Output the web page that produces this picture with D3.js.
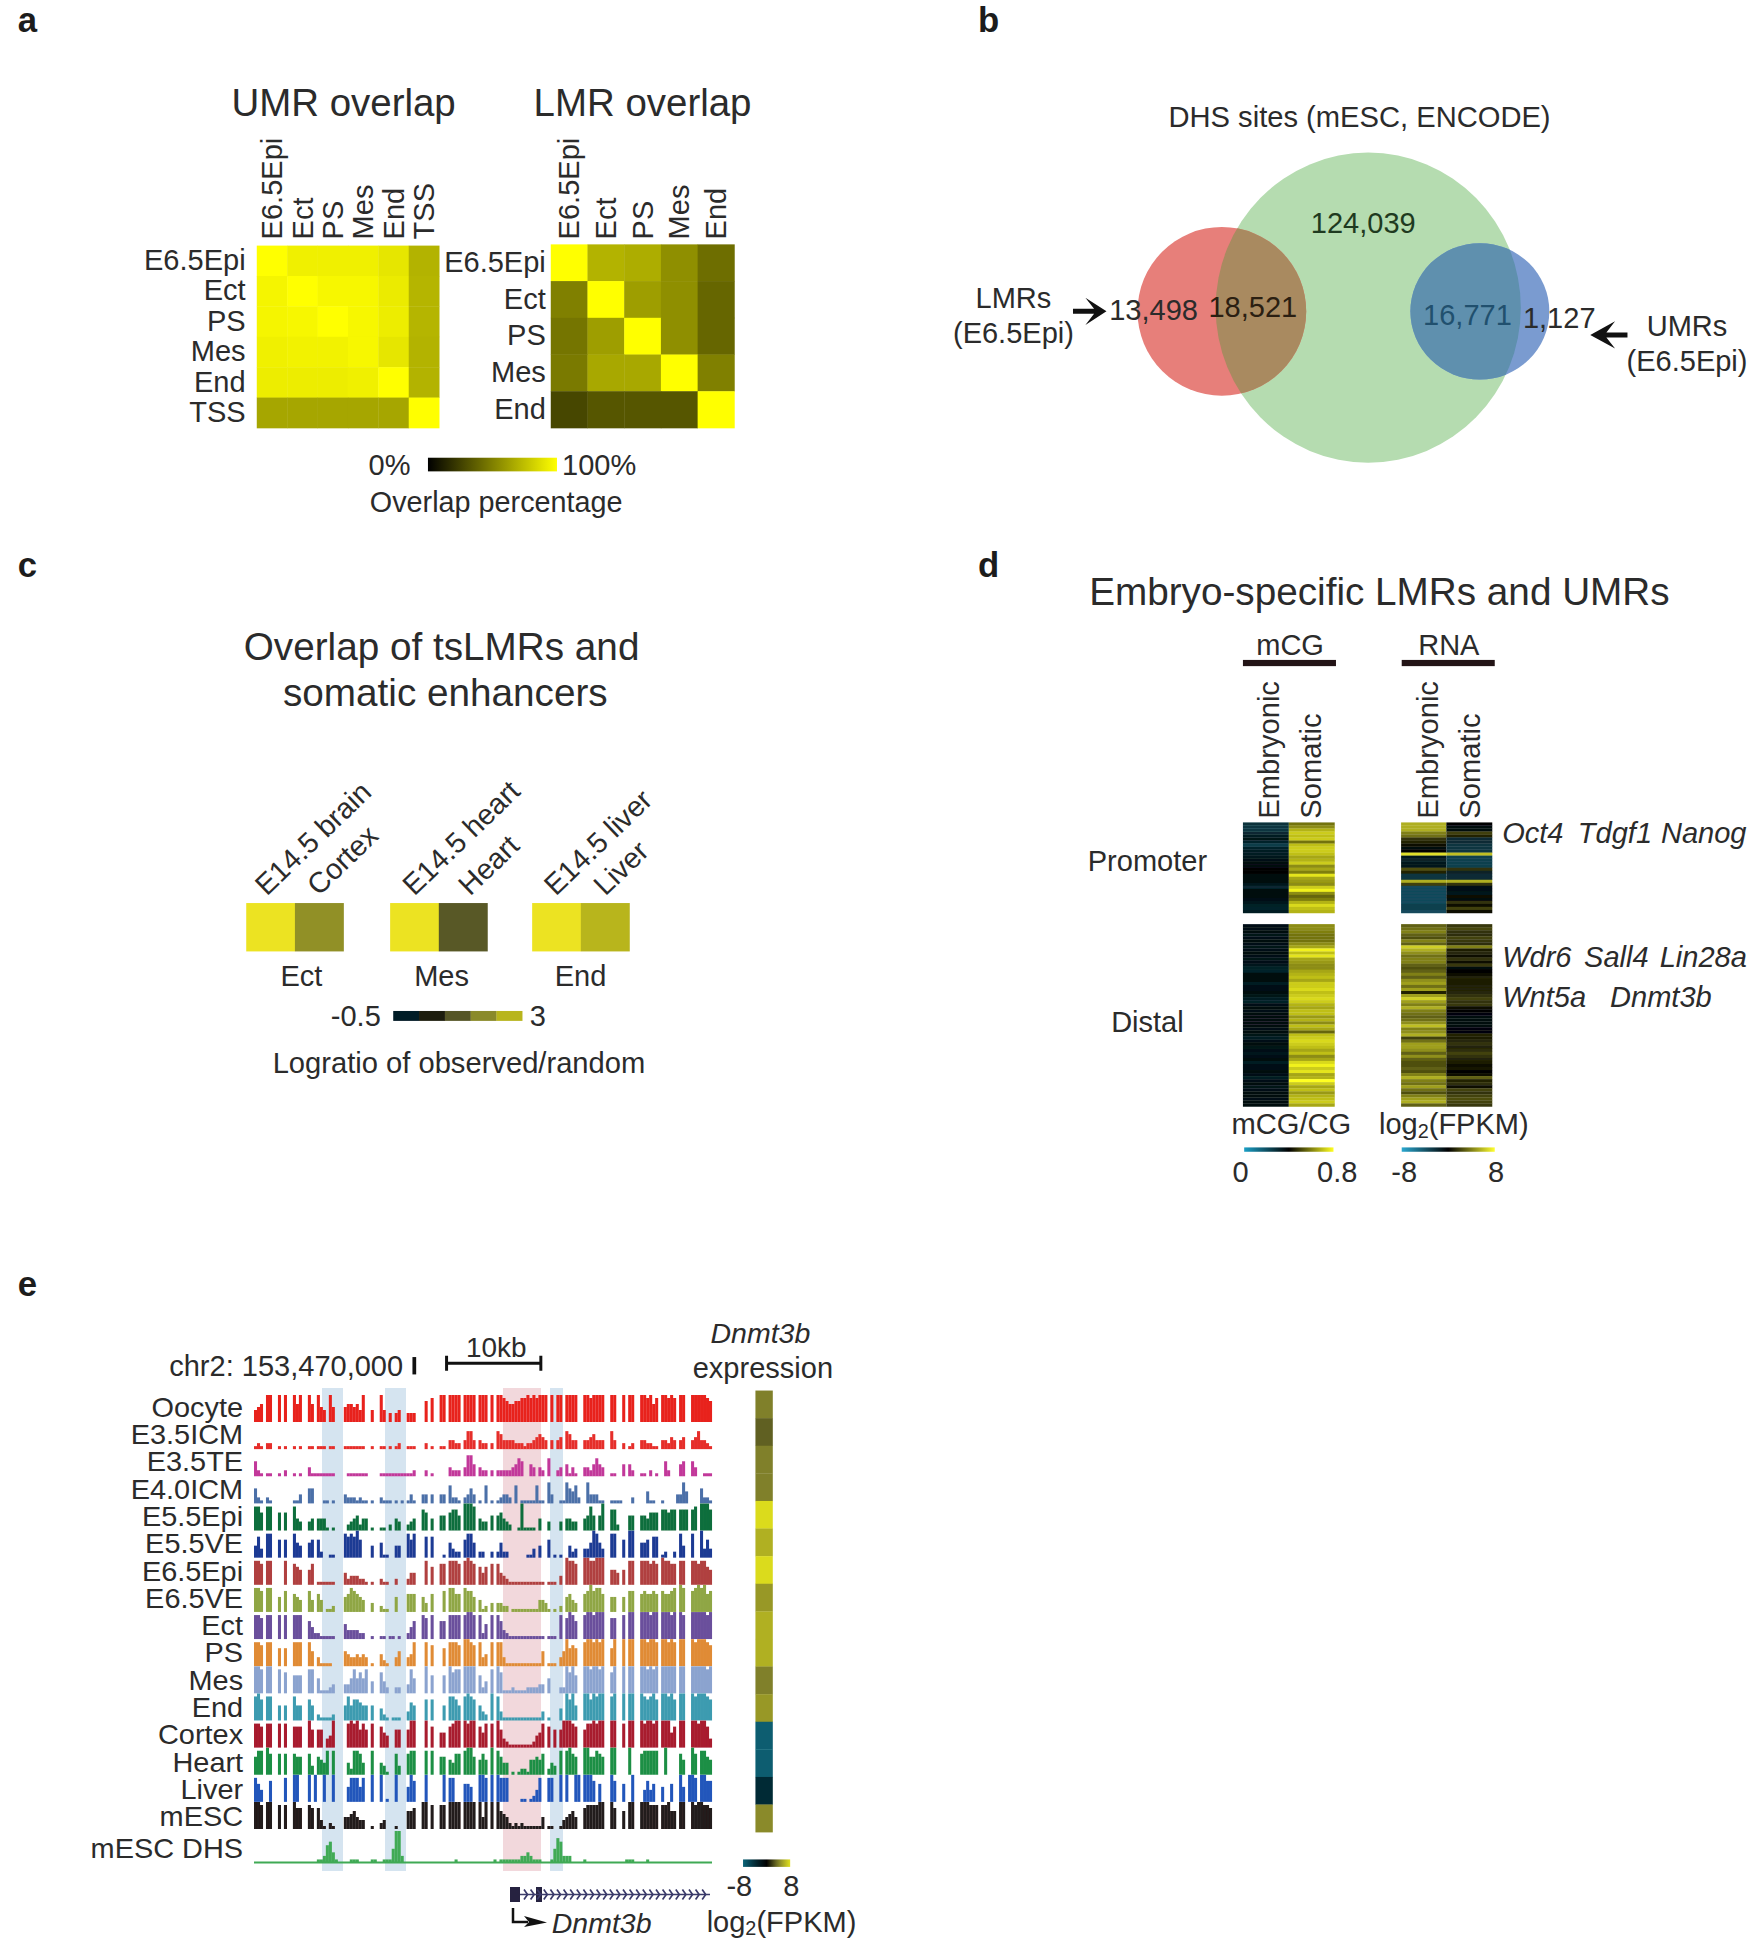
<!DOCTYPE html>
<html><head><meta charset="utf-8">
<script src="https://cdnjs.cloudflare.com/ajax/libs/d3/7.8.5/d3.min.js"></script>
<style>html,body{margin:0;padding:0;background:#fff}svg{display:block}text{font-family:"Liberation Sans",Arial,sans-serif;fill:#2b2b2b}</style>
</head><body><svg id="c" width="1754" height="1945"></svg>
<script>
// ---------- panel a
const umrCols = ["E6.5Epi","Ect","PS","Mes","End","TSS"];
const lmrCols = ["E6.5Epi","Ect","PS","Mes","End"];
const umrValues = [
 [100,94,94,94,90,70],[96,100,97,97,92,71],[96,97,100,97,93,71],
 [94,95,95,97,90,70],[93,93,93,94,100,70],[65,65,65,65,65,100]];
const lmrValues = [
 [100,70,68,56,43],[50,100,62,56,40],[46,62,100,56,40],
 [48,66,66,100,50],[28,34,34,34,100]];
// ---------- panel b
const vennCounts = ["124,039","13,498","18,521","16,771","1,127"];
// ---------- panel c
const enhGroups = ["Ect","Mes","End"];
const enhLabels = [["E14.5 brain","Cortex"],["E14.5 heart","Heart"],["E14.5 liver","Liver"]];
const enhValues = [[3,1.7],[3,0.95],[3,2.3]];
const enhStops = [-0.5,0.2,0.9,1.6,2.3,3];
const enhColors = ["#021a26","#1f1d0f","#555528","#8a8a2a","#b8b51e","#ece324"];
// ---------- panel d
const mcgPromEmb = [.28,.27,.27,.30,.33,.35,.31,.25,.31,.33,.33,.34,.36,.38,.38,.39,.39,.38,.38,.37,.34,.30,.37,.38,.38,.36,.34,.32,.31,.33];
const mcgPromSom = [.58,.62,.68,.72,.70,.72,.58,.70,.72,.72,.70,.66,.68,.72,.62,.66,.60,.76,.66,.64,.62,.72,.78,.62,.56,.60,.68,.74,.70,.68];
const rnaPromEmb = [5.5,5.5,5.5,4,3.5,1.5,1,.5,-.5,0,7,-1,-1.5,-1,-1,2.5,1,-2.5,-2.5,5.5,2,-3.5,-3.5,-3.5,-3.5,-3.5,-3.5,-3,-3,-3.5];
const rnaPromSom = [0,-.5,-.5,2,1,-2,-2,-2.5,-2.5,-2.5,6,-3,-3,-3,-3,1.5,-1.5,-2,-2,5.5,1.5,-.8,-.8,-1.2,.3,-.5,1.5,.5,2,.5];
const mcgDistEmb = [.36,.36,.37,.35,.36,.37,.36,.35,.36,.37,.36,.35,.36,.34,.32,.31,.38,.38,.37,.33,.36,.36,.37,.35,.33,.32,.36,.37,.36,.37,.38,.38,.38,.38,.36,.37,.35,.33,.36,.37,.35,.36,.34,.36,.37,.33,.36,.36,.37,.36,.33,.36,.37,.35,.36,.37,.37,.36,.37,.37];
const mcgDistSom = [.62,.62,.60,.58,.58,.58,.62,.66,.78,.70,.76,.66,.64,.62,.62,.66,.68,.70,.66,.72,.72,.74,.70,.72,.74,.72,.68,.66,.70,.70,.64,.68,.62,.70,.66,.56,.70,.72,.74,.72,.70,.66,.70,.62,.66,.74,.78,.72,.76,.66,.68,.80,.72,.66,.70,.64,.68,.70,.72,.66];
const rnaDistEmb = [3,3.5,4,3,2.5,4,3,6.5,5.5,4.5,3.5,4,4,3,2.5,3,4,3,4.5,5,3.5,5,1,5,6.5,5,4,5.5,4,3.5,3,3.5,4.5,6,4,4.5,5.5,2,3.5,5,5,4.5,3,4.5,3,2.5,2.5,3,2.5,4,5.5,4,3.5,5,3.5,2.5,4,5,5.5,3];
const rnaDistSom = [1.8,2.2,1.6,1.4,2.1,1.8,1.4,4,.9,1.2,.3,1.6,.4,1.8,-.4,.1,.3,1.1,.9,.8,1.1,1.1,1.2,1.6,2.1,1.6,1.8,.3,-.2,-.3,-.4,-.5,-.5,-.4,-.3,-.3,1,.8,1.2,1.6,1.1,1.4,2.1,1.6,1.1,.9,.4,.6,.2,.3,3,1,1.4,.4,2.1,1.6,2.1,2.4,2.1,1.8];
// ---------- panel e
const trackNames = ["Oocyte","E3.5ICM","E3.5TE","E4.0ICM","E5.5Epi","E5.5VE","E6.5Epi","E6.5VE","Ect","PS","Mes","End","Cortex","Heart","Liver","mESC"];
const trackColors = ["#e8231f","#e62d2a","#c2399a","#4c6fa8","#0f6e3c","#1f3a94","#b0403f","#8fa644","#6a4f9c","#e08b35","#8ba3cf","#3c9bb0","#a81a2e","#1f8f45","#2357bb","#231a1a"];
const oocyte = "4560990090 9009690096 0954095000 5665649004 0094030340 0333000708 0099099990 9999099909 0998766778 8989899909 0990999900 9989999009 9009099009 9896809989 8099009999 987";
const icm35  = "1210220010 1001010011 0111011000 1111111001 0011010120 0111000201 0011033220 3663032202 0653333222 1223454303 0340653300 3345333006 3002012003 3221103324 3034003463 321";
const te35   = "5210110010 2001010031 1111111000 0111111100 0011111111 1112000201 0000032220 3774032202 0222223465 0043032060 0230413100 3324643001 1004042001 1020100520 0045005300 111";
const icm40  = "5210210000 0001130055 0001101000 3222121101 0021110101 0131003303 0033062210 2353010601 0123320601 1111611073 0011754620 0733311001 1110002000 0411001000 0337400005 221";
const epi55  = "8860880060 6008430034 0444101000 0234524401 0011020430 0234007604 0055067750 9998043305 0564320019 1111040030 0030443300 4585059007 7200055005 5466607767 7077707809 997";
const ve55   = "4730880060 6008540056 0620011000 8787960004 0051100440 0868000707 0001053220 6885022002 0252200000 0113040060 1010042300 3359853008 8006099005 5607701200 2084008009 363";
const epi65  = "8870880000 8007650057 0111111000 4233322101 0021100200 0244000806 0077088870 8987064607 0743211111 1111111011 1030988700 9988999005 5405088008 8878709887 7088008878 865";
const ve65   = "8870880050 7006540074 0640112000 5687654003 0021100500 0666005306 0007088660 8775041203 0332201111 1111144310 1020564300 6797886005 5005077006 7667607667 8098007898 967";
const ect    = "8870880080 8008880064 2211111000 5333322001 0011011010 0246008708 0066088880 8998082508 0863211111 1111111011 1080798600 8998999007 7008099009 9989909998 9098009999 989";
const ps     = "8870880060 6008880085 0311110000 5433434301 0042100350 0348000807 0006088870 9987083408 0883111111 1111115011 1035967600 8998989006 9009099009 9899809989 8099009899 987";
const mes    = "9980990080 7006660088 0511123000 3358575804 0074200220 0385000906 0006097880 9999062408 0971112111 1222233050 0022979600 9989989007 9009099009 9898909999 9099009999 989";
const end    = "8970880050 5008550075 0211112000 5857765505 0042101110 0365000707 0005088750 8987053209 0831111111 1111113010 0040979500 9979899008 9009099009 8789709989 7099009899 987";
const cortex = "8870880080 8007770096 0660349000 0898968608 0075400660 0699000907 0055078990 9899075808 0963211111 1112458070 6069998700 6889899009 9008099009 8998909995 7099009989 973";
const heart  = "6880970070 7007660073 0654808000 0428874008 0043100730 0788000808 0066054770 8996057509 0864401012 2155657024 3080897600 9966876009 9000090007 8888800900 0075009708 865";
const liver  = "8640070000 8009900090 9009009000 0588858009 0090100900 0597000900 0009088000 6650099809 0988800001 1012480088 0090900990 9997060009 7006009000 4746005006 0095099809 977";
const mesc   = "9980990080 8009770087 0731021000 4456433001 0023000100 0667009908 0088099990 9999094909 0965421212 1111114011 0013456400 7888899009 7006099009 9988808896 6099009899 887";
const dhs    = "0000000000 0000000000 0112563100 0011100001 1001114992 0000000000 0000000100 0000000000 1011111112 2321110001 4762220000 1000000000 0000111000 0100000000 0000000000 000";
const dnmt3bExpr = [4,3,4,4,7.8,6,7.8,5,6,6,4,5,-7.5,-7.5,-4,4.4];
const binsPerTrack = 153;

// ---------- drawing
const K = 1754/1414;
const svg = d3.select("#c");
const defs = svg.append("defs");
defs.append("filter").attr("id","soft").append("feGaussianBlur").attr("stdDeviation",0.55);
const S = svg.append("g").attr("transform",`scale(${K})`);   // layout in 1414-wide units
const F = svg.append("g");                                    // tracks in full pixels
const BODY = 23.4;

function txt(g,x,y,s,o={}){
  const t=g.append("text").attr("x",x).attr("y",y).attr("dy",".35em").text(s)
    .attr("font-size",o.size||BODY).attr("text-anchor",o.anchor||"middle");
  if(o.weight)t.attr("font-weight",o.weight);
  if(o.style)t.attr("font-style",o.style);
  if(o.fill)t.style("fill",o.fill);
  if(o.rotate!=null)t.attr("transform",`rotate(${o.rotate} ${x} ${y})`);
  return t;
}
// a closely stacked label: keep the line box small, stretch the glyphs to the reference's width
function wide(t,f){t.attr("textLength",t.node().getComputedTextLength()*f).attr("lengthAdjust","spacingAndGlyphs");return t;}
function gradient(id,scale,dom){
  const lg=defs.append("linearGradient").attr("id",id);
  d3.range(0,1.0001,0.1).forEach(p=>lg.append("stop").attr("offset",p)
     .attr("stop-color",scale(dom[0]+(dom[1]-dom[0])*p)));
  return `url(#${id})`;
}
[["a",22,16],["b",797,16],["c",22,455],["d",797,455],["e",22,1035]].forEach(([l,x,y])=>txt(S,x,y,l,{size:28,weight:"bold",fill:"#1c1c1c"}));

// panel a
const ovColor = d3.scaleLinear().domain([0,100]).range(["#000000","#ffff00"]);
function heat(cols,vals,x0,x1,y0,y1,rowAt,colAt){
  const g=S.append("g").attr("filter","url(#soft)");
  const bx=d3.scaleBand().domain(cols).range([x0,x1]);
  const by=d3.scaleBand().domain(cols).range([y0,y1]);
  g.selectAll("g").data(vals).join("g").each(function(row,i){
    d3.select(this).selectAll("rect").data(row).join("rect")
      .attr("x",(d,j)=>bx(cols[j])).attr("y",by(cols[i]))
      .attr("width",bx.bandwidth()+.3).attr("height",by.bandwidth()+.3)
      .attr("fill",d=>ovColor(d));
  });
  const ax=S.append("g").attr("transform",`translate(${rowAt},0)`).call(d3.axisLeft(by).tickSize(0).tickPadding(0));
  ax.select(".domain").remove();
  ax.selectAll("text").attr("font-size",23.4).style("font-family",'"Liberation Sans"');
  const at=S.append("g").attr("transform",`translate(0,${colAt})`).call(d3.axisTop(bx).tickSize(0).tickPadding(0));
  at.select(".domain").remove();
  at.selectAll("text").attr("font-size",23.4).style("font-family",'"Liberation Sans"')
    .attr("text-anchor","start").attr("transform","rotate(-90)").attr("x",0).attr("y",0).attr("dy",".35em");
}
heat(umrCols,umrValues,207,354,198,345,198,193);
heat(lmrCols,lmrValues,444,592,197,345,440,193);
txt(S,277,83,"UMR overlap",{size:31});
txt(S,518,83,"LMR overlap",{size:31});
S.append("rect").attr("x",345).attr("y",369).attr("width",104).attr("height",11).attr("fill",gradient("gA",ovColor,[0,100]));
txt(S,314,375,"0%");txt(S,483,375,"100%");
txt(S,400,405,"Overlap percentage",{size:23.2});

// panel b
const venn={g:[1103,248,123,125],r:[985,251,68,68],b:[1193,251,56,55]};
const ell=(g,e,f)=>g.append("ellipse").attr("cx",e[0]).attr("cy",e[1]).attr("rx",e[2]).attr("ry",e[3]).attr("fill",f);
defs.append("clipPath").attr("id","cpG").append("ellipse").attr("cx",venn.g[0]).attr("cy",venn.g[1]).attr("rx",venn.g[2]).attr("ry",venn.g[3]);
const vg=S.append("g").attr("filter","url(#soft)");
ell(vg,venn.g,"#b5dcb0");ell(vg,venn.r,"#e77f7a");ell(vg,venn.b,"#7a9bd0");
ell(vg.append("g").attr("clip-path","url(#cpG)"),venn.r,"#a98a60");
ell(vg.append("g").attr("clip-path","url(#cpG)"),venn.b,"#5e90ae");
txt(S,1096,94,"DHS sites (mESC, ENCODE)",{size:23.5});
[[1099,180,"#1f3a20"],[930,250,"#2b2b2b"],[1010,247,"#2b1f12"],[1183,254,"#21506e"],[1257,256,"#2b2b2b"]]
 .forEach(([x,y,f],i)=>txt(S,x,y,vennCounts[i],{fill:f}));
txt(S,817,240,"LMRs");txt(S,817,268,"(E6.5Epi)");
txt(S,1360,263,"UMRs");txt(S,1360,291,"(E6.5Epi)");
S.append("path").attr("d","M865,249H882L875,240L892,251L875,262L882,253H865Z").attr("fill","#111");
S.append("path").attr("d","M1312,268H1295L1302,259L1282,270L1302,281L1295,272H1312Z").attr("fill","#111");

// panel c
const enhColor=d3.scaleLinear().domain(enhStops).range(enhColors);
txt(S,356,521,"Overlap of tsLMRs and",{size:31.2});
txt(S,359,558,"somatic enhancers",{size:31.2});
const enhX=[198.5,314.5,429];
enhGroups.forEach((name,i)=>{
  const x=d3.scaleBand().domain([0,1]).range([enhX[i],enhX[i]+78.5]);
  S.append("g").attr("filter","url(#soft)").selectAll("rect").data(enhValues[i]).join("rect")
    .attr("x",(d,j)=>x(j)).attr("y",728).attr("width",x.bandwidth()+.2).attr("height",39).attr("fill",d=>enhColor(d));
  txt(S,enhX[i]+(i==0?44.5:i==1?41.5:39),787,name);
});
[[215,723,0,0],[257,723,0,1],[334,723,1,0],[379,723,1,1],[448,723,2,0],[488,723,2,1]]
 .forEach(([x,y,i,j])=>S.append("text").attr("x",x).attr("y",y).text(enhLabels[i][j]).attr("font-size",23.3)
   .attr("transform",`rotate(-44 ${x} ${y})`));
const enhBins=enhStops.slice(0,5);
const lx=d3.scaleBand().domain(enhBins).range([317,421]);
S.append("g").attr("filter","url(#soft)").selectAll("rect").data(enhBins).join("rect")
  .attr("x",d=>lx(d)).attr("y",815).attr("width",lx.bandwidth()+.2).attr("height",8).attr("fill",d=>enhColor(d));
txt(S,307,819,"-0.5",{anchor:"end"});txt(S,427,819,"3",{anchor:"start"});
txt(S,370,857,"Logratio of observed/random",{size:23.5});

// panel d
txt(S,1112,477,"Embryo-specific LMRs and UMRs",{size:31.2});
const mcgColor=d3.scaleLinear().domain([0,.4,.8]).range(["#1a9fc5","#000000","#ffff20"]);
const rnaColor=d3.scaleLinear().domain([-8,0,8]).range(["#2aa8d0","#000000","#ffff30"]);
function stripes(arr,x0,x1,y0,y1,col){
  const y=d3.scaleBand().domain(d3.range(arr.length)).range([y0,y1]);
  S.append("g").attr("filter","url(#soft)").selectAll("rect").data(arr).join("rect")
   .attr("x",x0).attr("width",x1-x0).attr("y",(d,i)=>y(i)).attr("height",y.bandwidth()+.2).attr("fill",d=>col(d));
}
const dPromY=[663,736], dDistY=[745,892];
stripes(mcgPromEmb,1002,1039,...dPromY,mcgColor);stripes(mcgPromSom,1039,1076,...dPromY,mcgColor);
stripes(mcgDistEmb,1002,1039,...dDistY,mcgColor);stripes(mcgDistSom,1039,1076,...dDistY,mcgColor);
stripes(rnaPromEmb,1129.5,1166,...dPromY,rnaColor);stripes(rnaPromSom,1166,1203,...dPromY,rnaColor);
stripes(rnaDistEmb,1129.5,1166,...dDistY,rnaColor);stripes(rnaDistSom,1166,1203,...dDistY,rnaColor);
txt(S,1040,520,"mCG");txt(S,1168,520,"RNA");
S.append("rect").attr("x",1002).attr("y",532).attr("width",75).attr("height",5).attr("fill","#231416");
S.append("rect").attr("x",1130).attr("y",532).attr("width",75).attr("height",5).attr("fill","#231416");
[[1023,"Embryonic"],[1057,"Somatic"],[1151,"Embryonic"],[1185,"Somatic"]].forEach(([x,s])=>txt(S,x,660,s,{anchor:"start",rotate:-90,size:23.5}));
txt(S,925,694,"Promoter");txt(S,925,824,"Distal");
txt(S,1211,671,"Oct4",{anchor:"start",style:"italic"});
txt(S,1272,671,"Tdgf1",{anchor:"start",style:"italic"});
txt(S,1339,671,"Nanog",{anchor:"start",style:"italic"});
txt(S,1211,771,"Wdr6",{anchor:"start",style:"italic"});
txt(S,1277,771,"Sall4",{anchor:"start",style:"italic"});
txt(S,1338,771,"Lin28a",{anchor:"start",style:"italic"});
txt(S,1211,804,"Wnt5a",{anchor:"start",style:"italic"});
txt(S,1298,804,"Dnmt3b",{anchor:"start",style:"italic"});
txt(S,1041,906,"mCG/CG",{size:23.5});
function logLabel(x,y){const t=txt(S,x,y,"log",{});t.append("tspan").text("2").attr("font-size",16).attr("dy",3);t.append("tspan").text("(FPKM)").attr("font-size",BODY).attr("dy",-3);}
logLabel(1172,906);
S.append("rect").attr("x",1003).attr("y",925).attr("width",72).attr("height",3.5).attr("fill",gradient("gM",mcgColor,[0,.8]));
S.append("rect").attr("x",1130).attr("y",925).attr("width",75).attr("height",3.5).attr("fill",gradient("gR",rnaColor,[-8,8]));
txt(S,1000,945,"0");txt(S,1078,945,"0.8");txt(S,1132,945,"-8");txt(S,1206,945,"8");

// panel e
const tracks=[oocyte,icm35,te35,icm40,epi55,ve55,epi65,ve65,ect,ps,mes,end,cortex,heart,liver,mesc];
const parse=s=>s.replace(/ /g,"").split("").map(Number);
const tx=d3.scaleLinear().domain([0,binsPerTrack]).range([254,712]);
const base=d3.scaleLinear().domain([0,15]).range([1422,1829]);
const shadeBlue=[[322,343],[385,406],[550,563]], shadePink=[[503,541]];
F.append("g").selectAll("rect").data(shadeBlue).join("rect").attr("x",d=>d[0]).attr("width",d=>d[1]-d[0]).attr("y",1388).attr("height",483).attr("fill","#d5e4f0");
F.append("g").selectAll("rect").data(shadePink).join("rect").attr("x",d=>d[0]).attr("width",d=>d[1]-d[0]).attr("y",1388).attr("height",483).attr("fill","#f2d8dc");
const th=d3.scaleLinear().domain([0,9]).range([0,27]);
const tg=F.append("g").attr("filter","url(#soft)");
tracks.forEach((s,k)=>{
  const vals=parse(s);
  tg.append("g").selectAll("rect").data(vals.map((v,i)=>({v,i})).filter(d=>d.v>0)).join("rect")
   .attr("x",d=>tx(d.i)).attr("width",3.05).attr("y",d=>base(k)-th(d.v)).attr("height",d=>th(d.v)).attr("fill",trackColors[k]);
});
const dh=d3.scaleLinear().domain([0,9]).range([0,32]);
const dhsBase=1863;
tg.append("rect").attr("x",254).attr("width",458).attr("y",dhsBase-1.5).attr("height",2).attr("fill","#3faa55");
tg.append("g").selectAll("rect").data(parse(dhs).map((v,i)=>({v,i})).filter(d=>d.v>0)).join("rect")
  .attr("x",d=>tx(d.i)).attr("width",3.05).attr("y",d=>dhsBase-dh(d.v)).attr("height",d=>dh(d.v)).attr("fill","#3faa55");
const rowY=d3.scaleLinear().domain([0,15]).range([1134.5,1464.5]);
trackNames.forEach((n,i)=>wide(txt(S,196,rowY(i),n,{anchor:"end",size:22}),1.06));
wide(txt(S,196,1490,"mESC DHS",{anchor:"end",size:22}),1.06);
txt(S,325,1101,"chr2: 153,470,000",{anchor:"end",size:23.4});
S.append("rect").attr("x",332.5).attr("y",1094).attr("width",3).attr("height",14).attr("fill","#111");
S.append("path").attr("d","M360,1093V1105M360,1099H436M436,1093V1105").attr("stroke","#111").attr("stroke-width",2.4).attr("fill","none");
txt(S,400,1086,"10kb",{size:22.5});
txt(S,613,1075,"Dnmt3b",{style:"italic",size:23});
txt(S,615,1103,"expression",{size:23.4});
const exprColor=d3.scaleLinear().domain([-8,-4,0,4,8]).range(["#0a6478","#032a36","#000000","#80802a","#e0e01e"]);
const ey=d3.scaleBand().domain(trackNames).range([1121,1477]);
S.append("g").attr("filter","url(#soft)").selectAll("rect").data(dnmt3bExpr).join("rect")
  .attr("x",609).attr("width",14).attr("y",(d,i)=>ey(trackNames[i])).attr("height",ey.bandwidth()+.2).attr("fill",d=>exprColor(d));
S.append("rect").attr("x",599).attr("y",1499).attr("width",38).attr("height",6).attr("fill",gradient("gE",exprColor,[-8,8]));
txt(S,596,1520,"-8");txt(S,638,1520,"8");
logLabel(630,1549);
// gene model
const chevrons=d3.range(524,708,6.6);
const gm=F.append("g").attr("filter","url(#soft)");
gm.append("rect").attr("x",510).attr("y",1887).attr("width",10).attr("height",15).attr("fill","#25213f");
gm.append("rect").attr("x",536).attr("y",1887).attr("width",6).attr("height",15).attr("fill","#25213f");
gm.append("line").attr("x1",520).attr("x2",710).attr("y1",1894.5).attr("y2",1894.5).attr("stroke","#3a3a6a").attr("stroke-width",1.6);
gm.selectAll("path.ch").data(chevrons).join("path").attr("class","ch")
  .attr("d",x=>`M${x},1889.5L${x+3.5},1894.5L${x},1899.5`).attr("fill","none").attr("stroke","#3a3a6a").attr("stroke-width",1.7);
F.append("path").attr("d","M513,1908V1922H528").attr("fill","none").attr("stroke","#111").attr("stroke-width",2.5);
F.append("path").attr("d","M524,1916L547,1922.5L524,1927L529,1922Z").attr("fill","#111");
txt(S,485,1550,"Dnmt3b",{style:"italic",size:23});
</script></body></html>
